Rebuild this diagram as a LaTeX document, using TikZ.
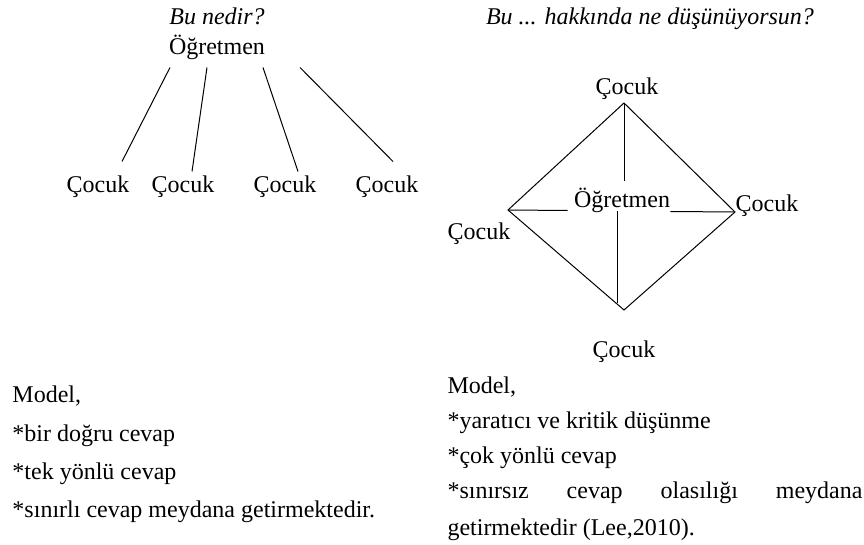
\documentclass[tikz,border=0pt]{standalone}
\usepackage{fontspec}
\setmainfont{Liberation Serif}
\begin{document}
\begin{tikzpicture}[x=1pt, y=-1pt, line width=1pt,
  every node/.style = {inner sep=0pt, font=\fontsize{24}{28}\selectfont},
  word/.style = {text height=17pt, text depth=5pt},
  head/.style = {word, font=\fontsize{24}{28}\selectfont\itshape},
  txt/.style = {anchor=base west}]

	\useasboundingbox (0,0) rectangle (864,545);

	% left model
	\node[head] (Q1) at (217,19) {Bu nedir?};
	\node[word] (T1) at (217,49) {Öğretmen};
	\node[word] (C1) at (98,187) {Çocuk};
	\node[word] (C2) at (183,187) {Çocuk};
	\node[word] (C3) at (285,187) {Çocuk};
	\node[word] (C4) at (387,187) {Çocuk};

	\draw ([xshift=-47pt,yshift=-7pt]T1.south) -- ([xshift=24pt,yshift=14pt]C1.north);
	\draw ([xshift=-10pt,yshift=-7pt]T1.south) -- ([xshift=9pt,yshift=4pt]C2.north);
	\draw ([xshift=46pt,yshift=-7pt]T1.south) -- ([xshift=13pt,yshift=4pt]C3.north);
	\draw ([xshift=83pt,yshift=-7pt]T1.south) -- ([xshift=6pt,yshift=14pt]C4.north);

	% right model
	\node[head] (Q2) at (650,19) {Bu ... hakkında ne düşünüyorsun?};
	\node[word] (T2) at (622,202) {Öğretmen};
	\node[word] (D1) at (627,89) {Çocuk};
	\node[word] (D2) at (767,206) {Çocuk};
	\node[word] (D3) at (624,351) {Çocuk};
	\node[word] (D4) at (479,234) {Çocuk};

	\coordinate (top) at (624,103);
	\coordinate (right) at (735,212);
	\coordinate (bottom) at (624,310);
	\coordinate (left) at (508,210);

	\draw (top) -- (right) -- (bottom) -- (left) -- cycle;
	\draw (top) -- ([xshift=2pt,yshift=9pt]T2.north);
	\draw ([xshift=-5pt,yshift=2pt]T2.south) -- ([xshift=-7pt,yshift=7pt]bottom);
	\draw (left) -- ([xshift=-6pt,yshift=3pt]T2.south west);
	\draw ([yshift=2pt]T2.south east) -- (right);

	% notes
	\node[txt] (L1) at (12,402) {Model,};
	\node[txt] (L2) at (12,441) {*bir doğru cevap};
	\node[txt] (L3) at (12,479) {*tek yönlü cevap};
	\node[txt] (L4) at (12,517) {*sınırlı cevap meydana getirmektedir.};

	\node[txt] (R1) at (447,393) {Model,};
	\node[txt] (R2) at (447,428) {*yaratıcı ve kritik düşünme};
	\node[txt] (R3) at (447,463) {*çok yönlü cevap};
	\node[txt] (R4) at (447,498) {\hbox to 415pt{*sınırsız\hfill cevap\hfill olasılığı\hfill meydana}};
	\node[txt] (R5) at (447,535) {getirmektedir (Lee,2010).};
\end{tikzpicture}
\end{document}
